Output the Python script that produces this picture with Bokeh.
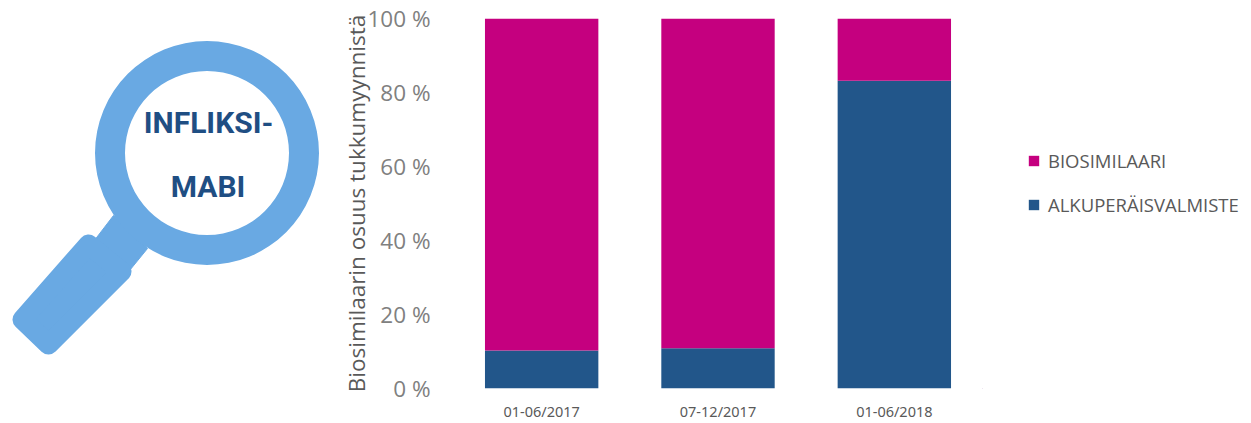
from bokeh.embed import file_html
from bokeh.resources import INLINE
from bokeh.plotting import figure
from bokeh.layouts import row
from bokeh.models import FactorRange, Range1d, FixedTicker, Legend, LegendItem
from bokeh.core.properties import value

categories = ["01-06/2017", "07-12/2017", "01-06/2018"]
alkuperais = [10.3, 10.9, 83.2]
biosimilaari = [89.7, 89.1, 16.8]
y_ticks = [0, 20, 40, 60, 80, 100]
y_tick_labels = ["0 %", "20 %", "40 %", "60 %", "80 %", "100 %"]
series_names = ["alkuperais", "biosimilaari"]
legend_labels = ["BIOSIMILAARI", "ALKUPERÄISVALMISTE"]
y_title = "Biosimilaarin osuus tukkumyynnistä"
logo_lines = ["INFLIKSI-", "MABI"]

BLUE = "#22568a"
MAGENTA = "#c5007f"
RING = "#69a9e3"
HEIGHT = 423

# ---- magnifier logo (drawn in page pixels; the row aligns its frame with the chart's) ----
logo = figure(width=338, height=HEIGHT, output_backend="svg", toolbar_location=None,
              x_range=Range1d(0, 338), y_range=Range1d(388, 18),
              x_axis_location=None, y_axis_location=None,
              min_border=0, outline_line_color=None)
logo.grid.visible = False
logo.patch([113, 147, 125, 90], [215, 248, 275, 245], fill_color=RING, line_color=RING)
logo.patch([88, 121, 48, 22], [244, 271, 344, 319], fill_color=RING,
           line_color=RING, line_width=20, line_join="round")
logo.annulus(x=[206.5], y=[152.5], inner_radius=82, outer_radius=112,
             fill_color=RING, line_color=None)
logo.text(x=[208, 207.5], y=[122, 186], text=logo_lines, text_align="center",
          text_baseline="middle", text_color="#1f4e83", text_font_style="bold",
          text_font=value("Roboto"), text_font_size="30px")

# ---- stacked bars ----
p = figure(width=644, height=HEIGHT, output_backend="svg", toolbar_location=None,
           x_range=FactorRange(factors=categories), y_range=Range1d(0, 100),
           min_border_left=115, min_border_right=0, min_border_top=18, min_border_bottom=35,
           outline_line_color=None)
source = dict(categories=categories, alkuperais=alkuperais, biosimilaari=biosimilaari)
rs = p.vbar_stack(series_names, x="categories", width=0.643, source=source,
                  color=[BLUE, MAGENTA], line_color=None)
p.grid.visible = False
p.xaxis.axis_line_color = None
p.xaxis.major_tick_line_color = None
p.xaxis.minor_tick_line_color = None
p.xaxis.major_tick_out = 0
p.xaxis.major_label_text_color = "#595959"
p.xaxis.major_label_text_font = "Noto Sans"
p.xaxis.major_label_text_font_size = "14.5px"
p.xaxis.major_label_standoff = 12

p.yaxis.ticker = FixedTicker(ticks=y_ticks)
p.yaxis.major_label_overrides = dict(zip(y_ticks, y_tick_labels))
p.yaxis.axis_line_color = None
p.yaxis.major_tick_line_color = None
p.yaxis.minor_tick_line_color = None
p.yaxis.major_tick_out = 0
p.yaxis.major_label_text_color = "#808080"
p.yaxis.major_label_text_font = "Open Sans"
p.yaxis.major_label_text_font_style = "normal"
p.yaxis.major_label_text_font_size = "22.5px"
p.yaxis.major_label_standoff = 23
p.yaxis.axis_label = y_title
p.yaxis.axis_label_text_color = "#595959"
p.yaxis.axis_label_text_font = "Open Sans"
p.yaxis.axis_label_text_font_style = "normal"
p.yaxis.axis_label_text_font_size = "22.5px"
p.yaxis.axis_label_standoff = -8

# ---- legend panel: its keys sit outside the visible range, only the legend shows them ----
leg = figure(width=269, height=HEIGHT, output_backend="svg", toolbar_location=None,
             x_axis_location=None, y_axis_location=None,
             x_range=Range1d(0, 1), y_range=Range1d(0, 1),
             min_border=0, outline_line_color=None)
leg.grid.visible = False
key_bio = leg.vbar(x=[-5], top=[-5], width=1, color=MAGENTA, line_color=None)
key_alk = leg.vbar(x=[-5], top=[-5], width=1, color=BLUE, line_color=None)
legend = Legend(items=[LegendItem(label=legend_labels[0], renderers=[key_bio]),
                       LegendItem(label=legend_labels[1], renderers=[key_alk])],
                location=(45, 171), border_line_color=None, background_fill_color=None,
                margin=0, padding=0, spacing=19, glyph_width=13, glyph_height=13,
                label_standoff=8, label_text_color="#595959", label_text_font="Open Sans",
                label_text_font_size="18.5px", label_height=18)
leg.add_layout(legend, "center")

page = row(logo, p, leg, spacing=0)
open("out.html", "w").write(file_html(page, INLINE))
